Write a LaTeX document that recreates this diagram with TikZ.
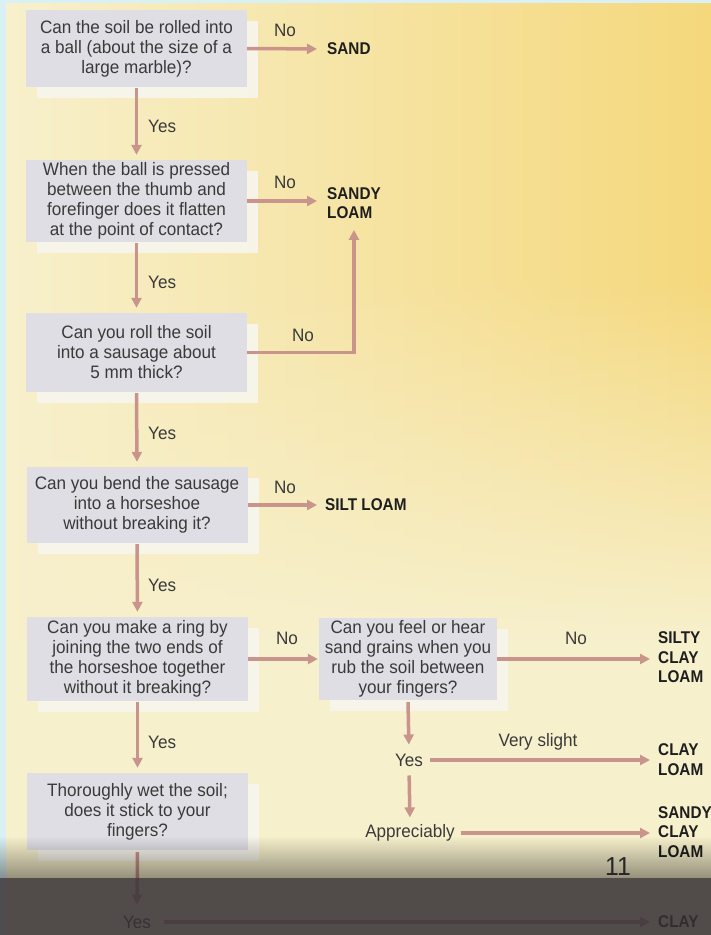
\documentclass[tikz,border=0pt]{standalone}
\usepackage{fontspec}
\setmainfont{Liberation Sans}[FakeStretch=0.95]
\newfontfamily\ansfont{Liberation Sans}[UprightFont={* Bold}, FakeStretch=0.9]
\usetikzlibrary{arrows.meta,fadings,calc,shadows}
\tikzfading[name=fadedown, top color=transparent!100, bottom color=transparent!0]
\definecolor{bgblue}{HTML}{D9F0F4}
\definecolor{ycream}{HTML}{F7F0CC}
\definecolor{ysat}{HTML}{F5D87C}
\definecolor{boxfill}{HTML}{DEDEE4}
\definecolor{shadowc}{HTML}{F8F6EE}
\definecolor{arrc}{HTML}{C9948B}
\definecolor{txtc}{HTML}{3A3A3A}
\definecolor{lblc}{HTML}{1E1E1E}
\definecolor{bandc}{HTML}{353033}
\begin{document}
\begin{tikzpicture}[x=1pt,y=-1pt,
  qbox/.style={fill=boxfill, text=txtc, align=center, inner sep=0pt,
    minimum width=221pt, font=\fontsize{18}{20}\selectfont,
    drop shadow={shadow xshift=11pt, shadow yshift=-11pt, fill=shadowc, opacity=0.9}},
  ans/.style={inner sep=0pt, anchor=west, align=left, text=lblc,
    font=\ansfont\fontsize{17}{19.5}\selectfont},
  lab/.style={inner sep=0pt, text=txtc, font=\fontsize{18}{20}\selectfont},
  flow/.style={draw=arrc, line width=3.5pt, -{Triangle[length=10pt,width=10pt]}}
]
\useasboundingbox (0,0) rectangle (711,935);
% background
\fill[bgblue] (0,0) rectangle (711,935);
\shade[left color=ycream, right color=ysat] (6,3) rectangle (711,935);
\fill[ycream, path fading=fadedown] (6,280) rectangle (711,640);
\fill[ycream] (6,640) rectangle (711,935);

% question boxes
\node[qbox, minimum height=77pt] (b1) at (136.5,48.5)
  {Can the soil be rolled into\\a ball (about the size of a\\large marble)?};
\node[qbox, minimum height=82pt] (b2) at (136.5,201)
  {When the ball is pressed\\between the thumb and\\forefinger does it flatten\\at the point of contact?};
\node[qbox, minimum height=79pt] (b3) at (136.5,352.5)
  {Can you roll the soil\\into a sausage about\\5 mm thick?};
\node[qbox, minimum height=76pt] (b4) at (137,505)
  {Can you bend the sausage\\into a horseshoe\\without breaking it?};
\node[qbox, minimum height=84pt] (b5) at (137.5,659)
  {Can you make a ring by\\joining the two ends of\\the horseshoe together\\without it breaking?};
\node[qbox, minimum height=82pt, minimum width=178pt] (b6) at (408,659)
  {Can you feel or hear\\sand grains when you\\rub the soil between\\your fingers?};
\node[qbox, minimum height=77pt] (b7) at (137.5,811.5)
  {Thoroughly wet the soil;\\does it stick to your\\fingers?};

% answers
\node[ans] (sand) at (327,49) {SAND};
\node[ans] (sandyloam) at (327,203) {SANDY\\LOAM};
\node[ans] (siltloam) at (325,505) {SILT LOAM};
\node[ans] (scl) at (658,657.5) {SILTY\\CLAY\\LOAM};
\node[ans] (clayloam) at (658,759.5) {CLAY\\LOAM};
\node[ans] (sdcl) at (658,832) {SANDY\\CLAY\\LOAM};

% intermediate answers
\node[lab] (yesA) at (409,760) {Yes};
\node[lab] (appr) at (410,833) {Appreciably};

% labels
\node[lab] (no1) at (285,30) {No};
\node[lab] (no2) at (285,182) {No};
\node[lab] (no3) at (303,335) {No};
\node[lab] (no4) at (285,487) {No};
\node[lab] (no5) at (287,638) {No};
\node[lab] (no6) at (576,638) {No};
\node[lab, anchor=west] (y1) at (148,126) {Yes};
\node[lab, anchor=west] (y2) at (148,282) {Yes};
\node[lab, anchor=west] (y3) at (148,433) {Yes};
\node[lab, anchor=west] (y4) at (148,585) {Yes};
\node[lab, anchor=west] (y5) at (148,742) {Yes};
\node[lab] (vsl) at (538,742) {Very slight};

% connectors
\draw[flow, shorten >=10pt] (b1.east) -- (sand.west);
\draw[flow, shorten >=10pt] (b2.east) -- (b2.east -| sandyloam.west);
\draw[flow, shorten >=11pt] (b3.east) -| (sandyloam.south);
\draw[flow, shorten >=8pt] (b4.east) -- (siltloam.west);
\draw[flow, shorten >=1pt] (b5.east) -- (b6.west);
\draw[flow, shorten >=8pt] (b6.east) -- (b6.east -| scl.west);
\draw[flow, shorten <=1pt, shorten >=5pt] (b1.south) -- (b2.north);
\draw[flow, shorten <=1pt, shorten >=5pt] (b2.south) -- (b3.north);
\draw[flow, shorten <=1pt, shorten >=5pt] (b3.south) -- (b4.north);
\draw[flow, shorten <=1pt, shorten >=5pt] (b4.south) -- (b5.north);
\draw[flow, shorten <=1pt, shorten >=5pt] (b5.south) -- (b7.north);
\draw[flow, shorten <=2pt, shorten >=9pt] (b6.south) -- (yesA.north);
\draw[flow, shorten <=7pt, shorten >=8pt] (yesA.east) -- (yesA.east -| clayloam.west);
\draw[flow, shorten <=9pt, shorten >=7pt] (yesA.south) -- (appr.north);
\draw[flow, shorten <=6pt, shorten >=8pt] (appr.east) -- (appr.east -| sdcl.west);

\node[lab] (yesB) at (137,922) {Yes};
\node[ans] (clay) at (658,922) {CLAY};
\draw[flow, shorten <=2pt, shorten >=11pt] (b7.south) -- (yesB.north);
\draw[flow, shorten <=13pt, shorten >=8pt] (yesB.east) -- (clay.west);

% video overlay
\fill[black, opacity=0.4, path fading=fadedown] (0,836) rectangle (711,878);
\fill[bandc, opacity=0.85] (0,878) rectangle (711,935);
\node[inner sep=0pt, text=black!85, font=\fontsize{26}{26}\selectfont] (pg) at (618,867) {11};
\end{tikzpicture}
\end{document}
